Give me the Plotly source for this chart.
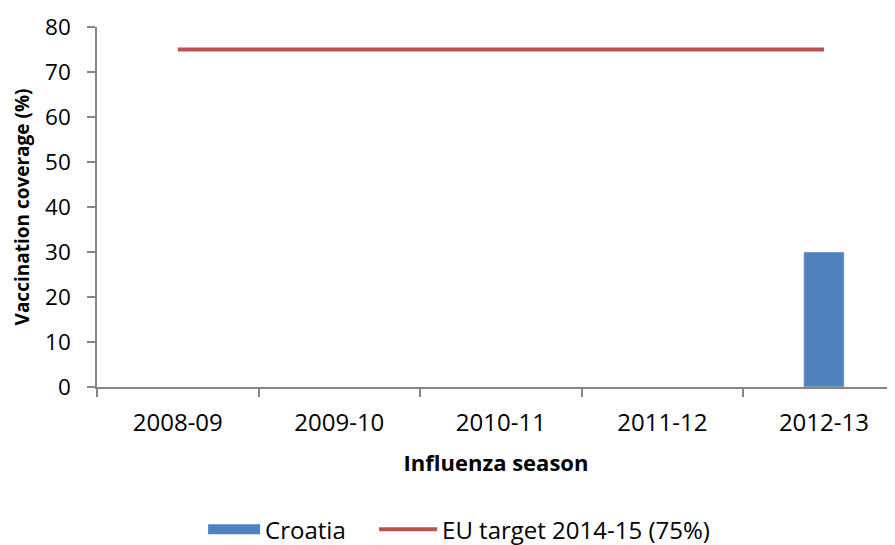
import plotly.graph_objects as go

seasons = ["2008-09", "2009-10", "2010-11", "2011-12", "2012-13"]
croatia = [None, None, None, None, 30]
eu_target = [75, 75, 75, 75, 75]

font = "Open Sans"
bar_color = "#4F81BD"
line_color = "#C0504D"

fig = go.Figure()
fig.add_trace(go.Bar(x=seasons, y=croatia, name="Croatia", marker_color=bar_color,
                     width=0.25, showlegend=False, legendgroup="cro"))
# legend-only entry to get a wide rectangular swatch like the reference
fig.add_trace(go.Scatter(x=[None], y=[None], name="Croatia", mode="lines",
                         line=dict(color=bar_color, width=14), legendgroup="cro",
                         legend="legend"))
fig.add_trace(go.Scatter(x=seasons, y=eu_target, name="EU target 2014-15 (75%)",
                         mode="lines", line=dict(color=line_color, width=4),
                         legend="legend2"))

leg_common = dict(orientation="h", xref="container", yref="container",
                  xanchor="left", y=0.043, yanchor="middle",
                  font=dict(size=24), bgcolor="rgba(0,0,0,0)")

fig.update_layout(
    width=895, height=545,
    margin=dict(l=89, r=8, t=19, b=166, autoexpand=False),
    plot_bgcolor="white", paper_bgcolor="white",
    font=dict(family=font, size=22, color="black"),
    showlegend=True,
    legend=dict(x=0.218, itemwidth=52, **leg_common),
    legend2=dict(x=0.409, itemwidth=58, **leg_common),
    xaxis=dict(
        type="category", range=[-0.5, 4.44], tickson="boundaries",
        ticks="outside", ticklen=8, tickcolor="#868686", tickwidth=1.5,
        showline=True, linecolor="#868686", linewidth=1.5, automargin=False,
        showgrid=False, tickfont=dict(size=24), ticklabelstandoff=13,
        title=dict(text="<b>Influenza season</b>", font=dict(size=22), standoff=19),
    ),
    yaxis=dict(
        range=[0, 80], dtick=10, ticks="outside", ticklen=8, tickcolor="#868686",
        tickwidth=1.5, automargin=False,
        showline=True, linecolor="#868686", linewidth=1.5,
        showgrid=False, zeroline=False, tickfont=dict(size=22.5), ticklabelstandoff=12,
        title=dict(text="<b>Vaccination coverage (%)</b>", font=dict(size=19), standoff=10),
    ),
)
fig.write_html("out.html")
